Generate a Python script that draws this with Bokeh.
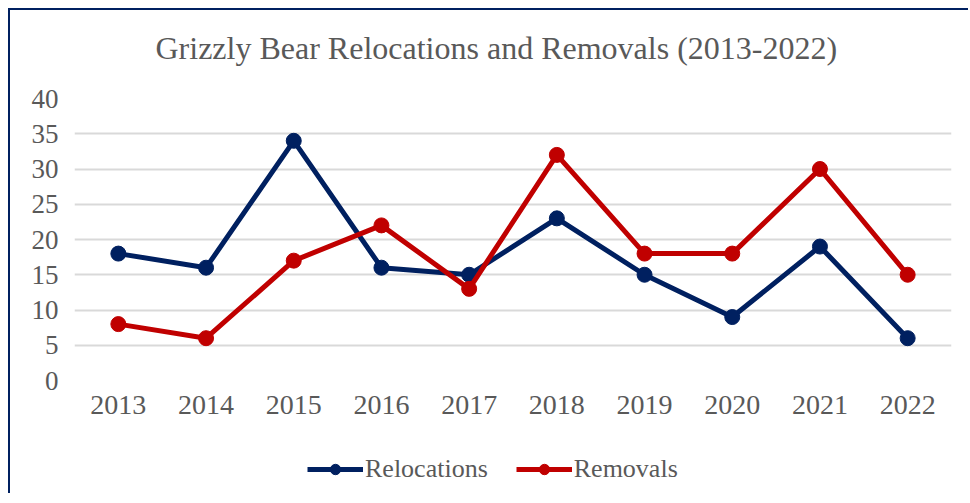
from bokeh.plotting import figure
from bokeh.layouts import column
from bokeh.models import Range1d, Legend, LegendItem, FactorRange, Title
from bokeh.embed import file_html
from bokeh.resources import INLINE

years = ["2013", "2014", "2015", "2016", "2017", "2018", "2019", "2020", "2021", "2022"]
relocations = [18, 16, 34, 16, 15, 23, 15, 9, 19, 6]
removals = [8, 6, 17, 22, 13, 32, 18, 18, 30, 15]
y_ticks = [0, 5, 10, 15, 20, 25, 30, 35, 40]

FONT = "Liberation Serif"
GREY = "#595959"
NAVY = "#002060"
RED = "#C00000"

p = figure(x_range=FactorRange(*years), y_range=Range1d(0, 40),
           width=960, height=424,
           min_border_left=64, min_border_right=19, min_border_top=88, min_border_bottom=54,
           output_backend="svg", toolbar_location=None)
p.styles = {"border-left": "2px solid #002060", "border-top": "2px solid #002060"}

# spacer between title and plot area
p.add_layout(Title(text=" ", text_font_size="2px", standoff=12), "above")

p.title.text = "Grizzly Bear Relocations and Removals (2013-2022)"
p.title.text_font = FONT
p.title.text_font_size = "32px"
p.title.text_font_style = "normal"
p.title.text_color = GREY
p.title.align = "left"
p.title.offset = 81
p.title.standoff = 33

p.outline_line_color = None
p.xgrid.grid_line_color = None
p.ygrid.grid_line_color = "#D9D9D9"
p.ygrid.grid_line_width = 2
p.yaxis.ticker = y_ticks

for ax in (p.xaxis, p.yaxis):
    ax.axis_line_color = None
    ax.major_tick_line_color = None
    ax.minor_tick_line_color = None
    ax.major_tick_out = 0
    ax.major_tick_in = 0
    ax.major_label_text_font = FONT
    ax.major_label_text_color = GREY
p.xaxis.major_label_text_font_size = "28px"
p.yaxis.major_label_text_font_size = "27px"
p.yaxis.major_label_standoff = 16
p.xaxis.major_label_standoff = 15

p.line(years, relocations, line_color=NAVY, line_width=5)
p.scatter(years, relocations, size=15, fill_color=NAVY, line_color=NAVY)
p.line(years, removals, line_color=RED, line_width=5)
p.scatter(years, removals, size=15, fill_color=RED, line_color=RED)

# legend strip below the chart
p2 = figure(x_range=FactorRange(*years), y_range=Range1d(1000, 1001),
            width=960, height=61, min_border=0,
            x_axis_location=None, y_axis_location=None,
            output_backend="svg", toolbar_location=None)
p2.styles = {"border-left": "2px solid #002060"}
p2.outline_line_color = None
p2.grid.visible = False

l1 = p2.line(years, relocations, line_color=NAVY, line_width=5)
s1 = p2.scatter(years, relocations, size=15, fill_color=NAVY, line_color=NAVY)
l2 = p2.line(years, removals, line_color=RED, line_width=5)
s2 = p2.scatter(years, removals, size=15, fill_color=RED, line_color=RED)

legend = Legend(items=[LegendItem(label="Relocations", renderers=[l1, s1]),
                       LegendItem(label="Removals", renderers=[l2, s2])],
                orientation="horizontal", location=(233, 9),
                label_text_font=FONT, label_text_font_size="26px", label_text_color=GREY,
                glyph_width=56, glyph_height=26, label_standoff=2, spacing=28,
                border_line_color=None, background_fill_alpha=0, margin=0, padding=0)
p2.add_layout(legend, "center")

layout = column(p, p2, styles={"padding-left": "8px", "padding-top": "8px"})

open("out.html", "w").write(file_html(layout, INLINE))
